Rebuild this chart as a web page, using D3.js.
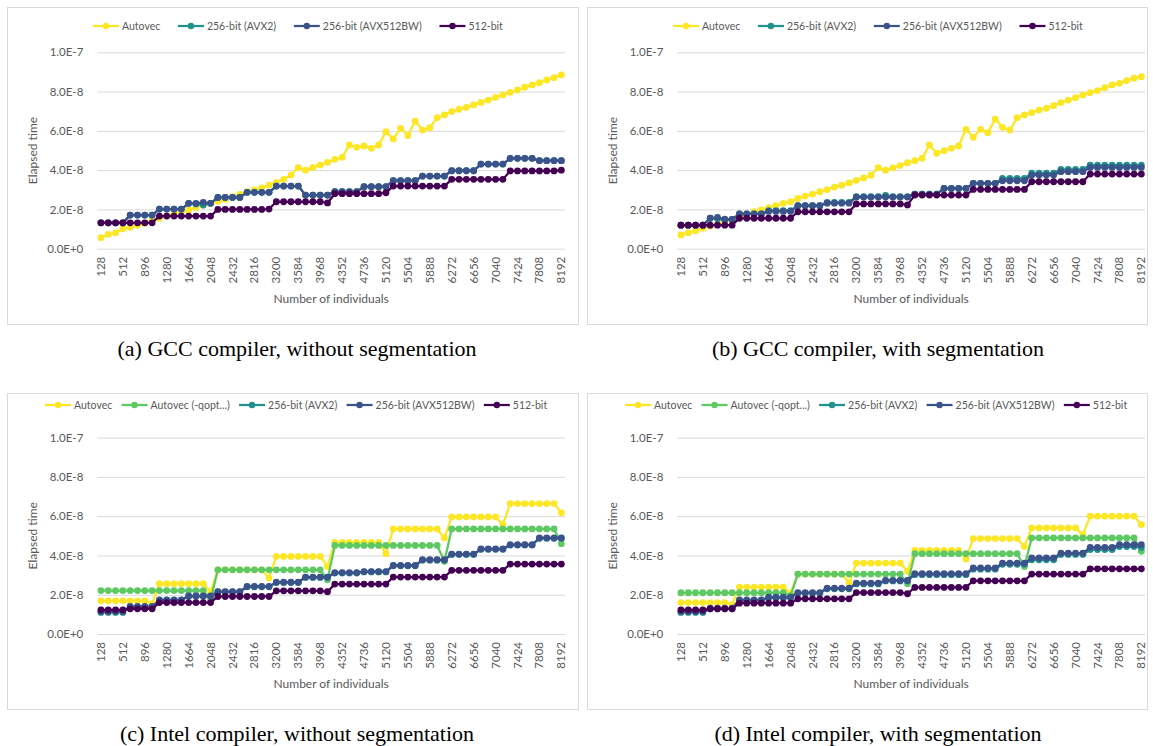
<!DOCTYPE html>
<html><head><meta charset="utf-8">
<script src="https://cdn.jsdelivr.net/npm/d3@7"></script>
<style>body{margin:0;background:#fff;} svg{display:block;}</style>
</head><body>
<svg id="c" width="1153" height="746"></svg>
<script>
// ---------- data (elapsed time in units of 1e-8) ----------
const categories = [128,256,384,512,640,768,896,1024,1152,1280,1408,1536,1664,1792,1920,2048,
  2176,2304,2432,2560,2688,2816,2944,3072,3200,3328,3456,3584,3712,3840,3968,4096,
  4224,4352,4480,4608,4736,4864,4992,5120,5248,5376,5504,5632,5760,5888,6016,6144,
  6272,6400,6528,6656,6784,6912,7040,7168,7296,7424,7552,7680,7808,7936,8064,8192];
const xTickLabels = ["128","512","896","1280","1664","2048","2432","2816","3200","3584","3968",
  "4352","4736","5120","5504","5888","6272","6656","7040","7424","7808","8192"];
const yTickValues = [0,2,4,6,8,10];
const yTickLabels = ["0.0E+0","2.0E-8","4.0E-8","6.0E-8","8.0E-8","1.0E-7"];

const gccNames = ["Autovec","256-bit (AVX2)","256-bit (AVX512BW)","512-bit"];
const gccColors = ["#fde725","#21918c","#3b528b","#440154"];
const intelNames = ["Autovec","Autovec (-qopt...)","256-bit (AVX2)","256-bit (AVX512BW)","512-bit"];
const intelColors = ["#fde725","#5ec962","#21918c","#3b528b","#440154"];

// (a) GCC, without segmentation
const autovecA = [0.56,0.73,0.81,1.02, 1.09,1.19,1.29,1.46, 1.55,1.66,1.80,1.88, 1.97,2.10,2.22,2.31,
  2.41,2.51,2.65,2.77, 2.90,2.99,3.10,3.24, 3.38,3.53,3.75,4.13, 4.00,4.14,4.26,4.40,
  4.55,4.65,5.28,5.16, 5.23,5.11,5.28,5.96, 5.59,6.13,5.76,6.50, 6.04,6.16,6.67,6.81,
  6.98,7.10,7.20,7.32, 7.45,7.57,7.71,7.83, 7.96,8.08,8.22,8.34, 8.45,8.59,8.71,8.85];
const avx2A = [1.32,1.32,1.32,1.32, 1.71,1.71,1.71,1.71, 2.02,2.02,2.02,2.02, 2.31,2.28,2.22,2.31,
  2.61,2.61,2.61,2.61, 2.87,2.87,2.87,2.87, 3.19,3.19,3.19,3.19, 2.73,2.73,2.73,2.73,
  2.90,2.90,2.90,2.90, 3.16,3.16,3.16,3.16, 3.46,3.46,3.46,3.46, 3.70,3.70,3.70,3.70,
  3.97,3.97,3.97,3.97, 4.31,4.31,4.31,4.31, 4.60,4.60,4.60,4.60, 4.48,4.48,4.48,4.48];
const avx512A = [1.32,1.32,1.32,1.32, 1.71,1.71,1.71,1.71, 2.02,2.02,2.02,2.02, 2.31,2.31,2.36,2.31,
  2.61,2.61,2.61,2.61, 2.87,2.87,2.87,2.87, 3.19,3.19,3.19,3.19, 2.73,2.73,2.73,2.73,
  2.90,2.90,2.90,2.90, 3.16,3.16,3.16,3.16, 3.46,3.46,3.46,3.46, 3.70,3.70,3.70,3.70,
  3.97,3.97,3.97,3.97, 4.31,4.31,4.31,4.31, 4.60,4.60,4.60,4.60, 4.48,4.48,4.48,4.48];
const bit512A = [1.32,1.32,1.32,1.32, 1.32,1.32,1.32,1.32, 1.66,1.66,1.66,1.66, 1.66,1.66,1.66,1.66,
  2.00,2.00,2.00,2.00, 2.00,2.00,2.00,2.02, 2.39,2.39,2.39,2.39, 2.39,2.39,2.39,2.33,
  2.80,2.80,2.80,2.80, 2.80,2.80,2.80,2.85, 3.19,3.19,3.19,3.19, 3.19,3.19,3.19,3.19,
  3.53,3.53,3.53,3.53, 3.53,3.53,3.53,3.53, 3.96,3.96,3.96,3.96, 3.96,3.96,3.96,4.00];

// (b) GCC, with segmentation
const autovecB = [0.70,0.81,0.92,1.04, 1.15,1.26,1.37,1.48, 1.60,1.72,1.89,1.97, 2.09,2.19,2.31,2.39,
  2.56,2.68,2.78,2.90, 3.01,3.14,3.23,3.35, 3.48,3.60,3.74,4.13, 4.00,4.12,4.23,4.38,
  4.48,4.60,5.28,4.86, 4.99,5.11,5.23,6.08, 5.67,6.08,5.91,6.60, 6.18,6.04,6.67,6.81,
  6.93,7.06,7.15,7.28, 7.44,7.57,7.69,7.83, 7.95,8.05,8.20,8.34, 8.42,8.56,8.68,8.76];
const avx2B = [1.20,1.20,1.20,1.20, 1.55,1.52,1.46,1.49, 1.77,1.77,1.77,1.77, 1.94,1.94,1.94,1.94,
  2.19,2.19,2.19,2.19, 2.36,2.36,2.36,2.36, 2.65,2.65,2.65,2.65, 2.72,2.65,2.65,2.65,
  2.78,2.78,2.78,2.78, 3.07,3.07,3.07,3.07, 3.33,3.33,3.33,3.33, 3.58,3.58,3.58,3.58,
  3.85,3.85,3.85,3.85, 4.04,4.04,4.04,4.04, 4.26,4.26,4.26,4.26, 4.26,4.26,4.26,4.26];
const avx512B = [1.20,1.20,1.20,1.20, 1.55,1.60,1.50,1.49, 1.77,1.77,1.77,1.77, 1.90,1.90,1.90,1.90,
  2.19,2.19,2.19,2.19, 2.32,2.32,2.32,2.32, 2.63,2.63,2.63,2.63, 2.63,2.63,2.63,2.63,
  2.78,2.78,2.78,2.78, 3.07,3.07,3.07,3.07, 3.33,3.33,3.33,3.33, 3.46,3.46,3.46,3.46,
  3.75,3.75,3.75,3.75, 3.92,3.92,3.92,3.92, 4.14,4.14,4.14,4.14, 4.14,4.14,4.14,4.14];
const bit512B = [1.20,1.20,1.20,1.20, 1.20,1.20,1.20,1.20, 1.55,1.55,1.55,1.55, 1.55,1.55,1.55,1.55,
  1.88,1.88,1.88,1.88, 1.88,1.88,1.88,1.88, 2.28,2.28,2.28,2.28, 2.28,2.28,2.28,2.23,
  2.73,2.73,2.73,2.73, 2.73,2.73,2.73,2.73, 3.02,3.02,3.02,3.02, 3.02,3.02,3.02,3.02,
  3.41,3.41,3.41,3.41, 3.41,3.41,3.41,3.41, 3.80,3.80,3.80,3.80, 3.80,3.80,3.80,3.80];

// (c) Intel, without segmentation
const autovecC = [1.69,1.69,1.69,1.69, 1.69,1.69,1.69,1.55, 2.56,2.56,2.56,2.56, 2.56,2.56,2.56,2.15,
  3.27,3.27,3.27,3.27, 3.27,3.27,3.27,2.85, 3.95,3.95,3.95,3.95, 3.95,3.95,3.95,3.44,
  4.67,4.67,4.67,4.67, 4.67,4.67,4.67,4.09, 5.35,5.35,5.35,5.35, 5.35,5.35,5.35,4.89,
  5.96,5.96,5.96,5.96, 5.96,5.96,5.96,5.57, 6.64,6.64,6.64,6.64, 6.64,6.64,6.64,6.17];
const qoptC = [2.21,2.21,2.21,2.21, 2.21,2.21,2.21,2.21, 2.21,2.21,2.21,2.21, 2.21,2.21,2.21,1.74,
  3.27,3.27,3.27,3.27, 3.27,3.27,3.27,3.27, 3.27,3.27,3.27,3.27, 3.27,3.27,3.27,2.76,
  4.51,4.51,4.51,4.51, 4.51,4.51,4.51,4.51, 4.51,4.51,4.51,4.51, 4.51,4.51,4.51,3.70,
  5.35,5.35,5.35,5.35, 5.35,5.35,5.35,5.35, 5.35,5.35,5.35,5.35, 5.35,5.35,5.35,4.60];
const avx2C = [1.10,1.10,1.10,1.10, 1.38,1.38,1.38,1.38, 1.72,1.72,1.72,1.72, 1.92,1.92,1.92,1.92,
  2.14,2.14,2.14,2.14, 2.40,2.40,2.40,2.40, 2.62,2.62,2.62,2.62, 2.88,2.88,2.88,2.88,
  3.10,3.10,3.10,3.10, 3.16,3.16,3.16,3.16, 3.47,3.47,3.47,3.47, 3.76,3.76,3.76,3.76,
  4.05,4.05,4.05,4.05, 4.31,4.31,4.31,4.31, 4.53,4.53,4.53,4.53, 4.87,4.87,4.87,4.87];
const avx512C = [1.14,1.14,1.14,1.14, 1.40,1.40,1.40,1.40, 1.74,1.74,1.74,1.74, 1.94,1.94,1.94,1.94,
  2.16,2.16,2.16,2.16, 2.42,2.42,2.42,2.42, 2.64,2.64,2.64,2.64, 2.90,2.90,2.90,2.90,
  3.13,3.13,3.13,3.13, 3.18,3.18,3.18,3.18, 3.49,3.49,3.49,3.49, 3.78,3.78,3.78,3.78,
  4.07,4.07,4.07,4.07, 4.33,4.33,4.33,4.33, 4.55,4.55,4.55,4.55, 4.89,4.89,4.89,4.89];
const bit512C = [1.23,1.23,1.23,1.23, 1.28,1.28,1.28,1.28, 1.60,1.60,1.60,1.60, 1.60,1.60,1.60,1.60,
  1.91,1.91,1.91,1.91, 1.91,1.91,1.91,1.91, 2.20,2.20,2.20,2.20, 2.20,2.20,2.20,2.15,
  2.54,2.54,2.54,2.54, 2.54,2.54,2.54,2.54, 2.90,2.90,2.90,2.90, 2.90,2.90,2.90,2.90,
  3.24,3.24,3.24,3.24, 3.24,3.24,3.24,3.24, 3.56,3.56,3.56,3.56, 3.56,3.56,3.56,3.56];

// (d) Intel, with segmentation
const autovecD = [1.60,1.60,1.60,1.60, 1.60,1.60,1.60,1.50, 2.39,2.39,2.39,2.39, 2.39,2.39,2.39,2.08,
  3.05,3.05,3.05,3.05, 3.05,3.05,3.05,2.62, 3.61,3.61,3.61,3.61, 3.61,3.61,3.61,3.19,
  4.26,4.26,4.26,4.26, 4.26,4.26,4.26,3.82, 4.86,4.86,4.86,4.86, 4.86,4.86,4.86,4.46,
  5.40,5.40,5.40,5.40, 5.40,5.40,5.40,5.06, 6.00,6.00,6.00,6.00, 6.00,6.00,6.00,5.57];
const qoptD = [2.10,2.10,2.10,2.10, 2.10,2.10,2.10,2.10, 2.10,2.10,2.10,2.10, 2.10,2.10,2.10,1.95,
  3.05,3.05,3.05,3.05, 3.05,3.05,3.05,3.05, 3.05,3.05,3.05,3.05, 3.05,3.05,3.05,2.56,
  4.09,4.09,4.09,4.09, 4.09,4.09,4.09,4.09, 4.09,4.09,4.09,4.09, 4.09,4.09,4.09,3.44,
  4.89,4.89,4.89,4.89, 4.89,4.89,4.89,4.89, 4.89,4.89,4.89,4.89, 4.89,4.89,4.89,4.21];
const avx2D = [1.10,1.10,1.10,1.10, 1.28,1.28,1.28,1.28, 1.70,1.70,1.70,1.70, 1.84,1.84,1.84,1.84,
  2.08,2.08,2.08,2.08, 2.30,2.30,2.30,2.30, 2.55,2.55,2.55,2.55, 2.70,2.70,2.70,2.70,
  3.02,3.02,3.02,3.02, 3.02,3.02,3.02,3.02, 3.30,3.30,3.30,3.30, 3.55,3.55,3.55,3.55,
  3.78,3.78,3.78,3.78, 4.05,4.05,4.05,4.05, 4.30,4.30,4.30,4.30, 4.45,4.45,4.45,4.40];
const avx512D = [1.14,1.14,1.14,1.14, 1.31,1.31,1.31,1.31, 1.74,1.74,1.74,1.74, 1.87,1.87,1.87,1.87,
  2.11,2.11,2.11,2.11, 2.33,2.33,2.33,2.33, 2.59,2.59,2.59,2.59, 2.73,2.73,2.73,2.73,
  3.07,3.07,3.07,3.07, 3.07,3.07,3.07,3.07, 3.36,3.36,3.36,3.36, 3.61,3.61,3.61,3.61,
  3.87,3.87,3.87,3.87, 4.12,4.12,4.12,4.12, 4.41,4.41,4.41,4.41, 4.55,4.55,4.55,4.55];
const bit512D = [1.23,1.23,1.23,1.23, 1.28,1.28,1.28,1.28, 1.57,1.57,1.57,1.57, 1.57,1.57,1.57,1.57,
  1.79,1.79,1.79,1.79, 1.79,1.79,1.79,1.79, 2.11,2.11,2.11,2.11, 2.11,2.11,2.11,2.05,
  2.37,2.37,2.37,2.37, 2.37,2.37,2.37,2.37, 2.71,2.71,2.71,2.71, 2.71,2.71,2.71,2.71,
  3.05,3.05,3.05,3.05, 3.05,3.05,3.05,3.05, 3.32,3.32,3.32,3.32, 3.32,3.32,3.32,3.32];

// ---------- layout ----------
const FONT = "Lato, 'Open Sans', sans-serif";
const panels = [
  {dx:0,   dy:0,     box:[7,7,571,317],   names:gccNames,   colors:gccColors,
   data:[autovecA,avx2A,avx512A,bit512A], legendX:93, legendY:26, legendGap:17.7,
   caption:"(a) GCC compiler, without segmentation", capX:297},
  {dx:580, dy:0,     box:[587,7,560,317], names:gccNames,   colors:gccColors,
   data:[autovecB,avx2B,avx512B,bit512B], legendX:673, legendY:26, legendGap:17.7,
   caption:"(b) GCC compiler, with segmentation", capX:878},
  {dx:0,   dy:385.3, box:[7,393,571,316], names:intelNames, colors:intelColors,
   data:[autovecC,qoptC,avx2C,avx512C,bit512C], legendX:45, legendY:405, legendGap:9.3,
   caption:"(c) Intel compiler, without segmentation", capX:297},
  {dx:580, dy:385.3, box:[587,393,560,316], names:intelNames, colors:intelColors,
   data:[autovecD,qoptD,avx2D,avx512D,bit512D], legendX:625, legendY:405, legendGap:9.3,
   caption:"(d) Intel compiler, with segmentation", capX:878}
];

const svg = d3.select("#c");

function drawPanel(p) {
  const g = svg.append("g");
  g.append("rect").attr("x", p.box[0]+0.5).attr("y", p.box[1]+0.5)
    .attr("width", p.box[2]).attr("height", p.box[3])
    .attr("fill", "#fff").attr("stroke", "#d9d9d9").attr("stroke-width", 1);

  const left = 97.3 + p.dx, right = 565 + p.dx;
  const bottom = 248.7 + p.dy, top = 52.3 + p.dy;
  const x = d3.scaleBand().domain(categories).range([left, right]);
  const y = d3.scaleLinear().domain([0, 10]).range([bottom, top]);
  const cx = c => x(c) + x.bandwidth() / 2;

  // y axis + gridlines
  g.append("g").attr("transform", `translate(${left},0)`)
    .call(d3.axisLeft(y).tickValues(yTickValues)
      .tickFormat((d, i) => yTickLabels[i])
      .tickSize(-(right - left)).tickPadding(14))
    .call(a => {
      a.select(".domain").remove();
      a.selectAll("line").attr("stroke", "#d9d9d9").attr("stroke-width", 1);
      a.selectAll("text").attr("fill", "#595959")
        .style("font-family", FONT).style("font-size", "11.5px");
    });

  // x axis
  g.append("g").attr("transform", `translate(0,${bottom})`)
    .call(d3.axisBottom(x).tickValues(xTickLabels.map(Number))
      .tickFormat((d, i) => xTickLabels[i]).tickSize(0))
    .call(a => {
      a.select(".domain").remove();
      a.selectAll("text").attr("fill", "#595959")
        .style("font-family", FONT).style("font-size", "11.5px")
        .attr("transform", "rotate(-90)")
        .attr("text-anchor", "end")
        .attr("x", -8).attr("y", 0).attr("dy", "0.35em");
    });

  // axis titles
  g.append("text").attr("transform", `translate(${33 + p.dx},${(top + bottom) / 2}) rotate(-90)`)
    .attr("text-anchor", "middle").attr("dy", "0.35em")
    .attr("fill", "#595959").style("font-family", FONT).style("font-size", "12px")
    .text("Elapsed time");
  g.append("text").attr("x", (left + right) / 2).attr("y", 303 + p.dy)
    .attr("text-anchor", "middle")
    .attr("fill", "#595959").style("font-family", FONT).style("font-size", "12px")
    .text("Number of individuals");

  // series
  const line = d3.line().x(d => cx(d.c)).y(d => y(d.v));
  p.data.forEach((vals, si) => {
    const pts = categories.map((c, i) => ({c, v: vals[i]}));
    const sg = g.append("g");
    sg.append("path").datum(pts).attr("d", line)
      .attr("fill", "none").attr("stroke", p.colors[si]).attr("stroke-width", 2.25)
      .attr("stroke-linejoin", "round");
    sg.selectAll("circle").data(pts).join("circle")
      .attr("cx", d => cx(d.c)).attr("cy", d => y(d.v)).attr("r", 3.4)
      .attr("fill", p.colors[si]);
  });

  // legend
  let lx = p.legendX;
  p.names.forEach((name, si) => {
    const lg = g.append("g");
    lg.append("line").attr("x1", lx).attr("x2", lx + 26)
      .attr("y1", p.legendY).attr("y2", p.legendY)
      .attr("stroke", p.colors[si]).attr("stroke-width", 2.25);
    lg.append("circle").attr("cx", lx + 13).attr("cy", p.legendY).attr("r", 3.2)
      .attr("fill", p.colors[si]);
    const t = lg.append("text").attr("x", lx + 29).attr("y", p.legendY).attr("dy", "0.35em")
      .attr("fill", "#595959").style("font-family", FONT).style("font-size", "10.5px")
      .text(name);
    lx += 29 + t.node().getComputedTextLength() + p.legendGap;
  });

  // caption
  svg.append("text").attr("x", p.capX).attr("y", 355.5 + p.dy)
    .attr("text-anchor", "middle").attr("fill", "#000")
    .style("font-family", "'Liberation Serif', 'Times New Roman', serif").style("font-size", "22px")
    .text(p.caption);
}

panels.forEach(drawPanel);
</script>
</body></html>
